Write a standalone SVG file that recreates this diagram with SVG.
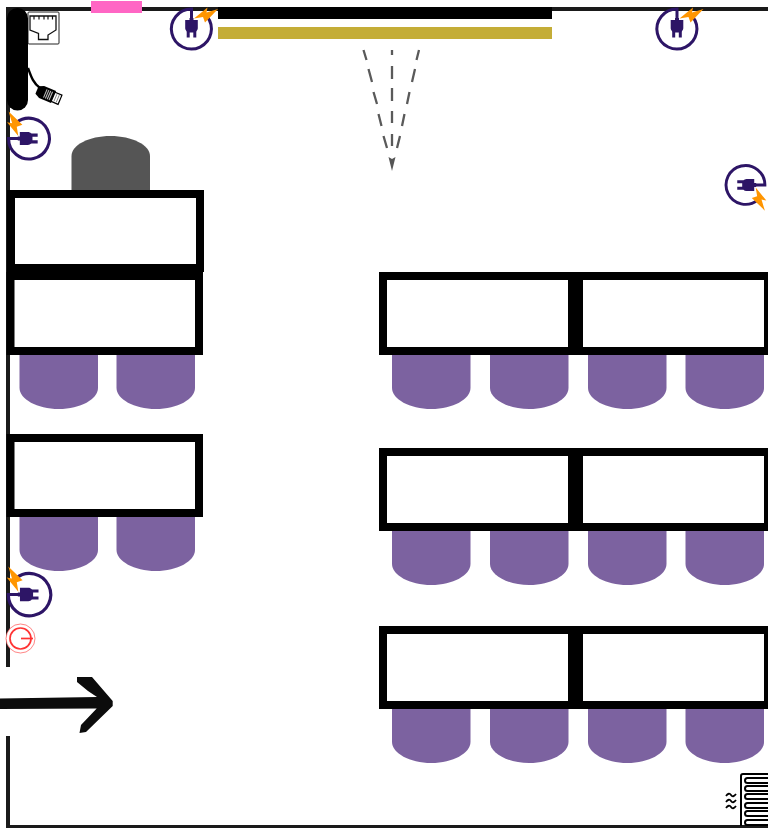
<svg xmlns="http://www.w3.org/2000/svg" width="768" height="828" viewBox="0 0 768 828">
<defs>
<style>
.wall{fill:#1a1a1a}
.desk{fill:#fff;stroke:#000;stroke-width:8}
.seat{fill:#7c62a0}
.ring{fill:none;stroke:#2d1566;stroke-width:3}
.plug{fill:#2d1566}
.bolt{fill:#ff9500}
.ray{stroke:#5a5a5a;stroke-width:2.300;fill:none}
</style>
<path id="chair" d="M0 0H78.500V33C78.500 44 61 54 39.250 54S0 44 0 33Z"/>
<g id="plugicon">
<path class="ring" d="M15.500 -12.500A20 20 0 1 1 0 -20V-8M-3.300 2V8.500M3.300 2V8.500"/>
<path class="plug" d="M-6.300 -9H-2V-11H2V-9H6.300V-1C6.300 1.500 4 3.400 2 3.400H-2C-4 3.400 -6.300 1.500 -6.300 -1Z"/>
<path class="bolt" d="M2.500 -10.500L16 -21.500L15 -16.500L26.500 -20L13.500 -6.500L11.500 -12Z"/>
</g>
</defs>
<rect width="768" height="828" fill="#fff"/>
<g id="walls">
<rect class="wall" x="6" y="7" width="762" height="4"/>
<rect class="wall" x="6" y="7" width="4" height="660"/>
<rect class="wall" x="6" y="736" width="4" height="92"/>
<rect class="wall" x="6" y="825" width="762" height="3"/>
</g>
<g id="window">
<rect x="91" y="1" width="51" height="12" fill="#ff66c4"/>
</g>
<g id="screen">
<rect x="218" y="7" width="334" height="12" fill="#000"/>
<rect x="218" y="27" width="334" height="12" fill="#c4ad37"/>
</g>
<g id="connectors">
<path class="ray" d="M363.500 50L366.500 60M368.500 69L372 82M373.500 92L377 104M378.500 114L381.500 126M383.500 136L387 148"/>
<path class="ray" d="M392 50V55M392 66V79M392 88V101M392 111V123M392 134V146"/>
<path class="ray" d="M419 50L416.500 60M415 69L412 82M409.500 92L407 104M404.500 114L402 126M400 136L397 148"/>
<path d="M388.500 157L392 159L395.500 157L392 171Z" fill="#555"/>
</g>
<g id="network">
<rect x="28" y="12" width="31" height="32" rx="1" fill="#fff" stroke="#222" stroke-width="1"/>
<path d="M30 16H56V30L48 35V39.500H38.500V33.500L30 30Z" fill="#fff" stroke="#111" stroke-width="1.300"/>
<path d="M34 16v3.500M39 16v3.500M44 16v3.500M48 16v3.500M52.500 16v3.500" stroke="#111" stroke-width="1.200"/>
</g>
<g id="cable">
<rect x="7" y="8" width="21" height="102.500" rx="10.500" fill="#000"/>
<path d="M28 68C31 76 33 83 40 88" fill="none" stroke="#000" stroke-width="2.400"/>
<g transform="translate(37 90) rotate(23)">
<path d="M0 -4L5 -6.500H18V6.500H5L0 4Z" fill="#000"/>
<path d="M9 -4.500V4.500M11 -4.500V4.500M13 -4.500V4.500M15 -4.500V4.500" stroke="#bbb" stroke-width="1.100"/>
<rect x="17.500" y="-5" width="7.500" height="10" fill="#fff" stroke="#000" stroke-width="1.200"/>
<path d="M20 -4V4M22.500 -4V4" stroke="#777" stroke-width=".8"/>
</g>
</g>
<g id="plug-1"><use href="#plugicon" transform="translate(191.500 29)"/></g>
<g id="plug-2"><use href="#plugicon" transform="translate(677 29)"/></g>
<g id="plug-3"><use href="#plugicon" transform="translate(29 138.500) rotate(-90) scale(1.020)"/></g>
<g id="plug-4"><use href="#plugicon" transform="translate(745.500 185) rotate(90) scale(.97)"/></g>
<g id="plug-5"><use href="#plugicon" transform="translate(29.500 594.500) rotate(-90) scale(1.060)"/></g>
<g id="power-switch">
<circle cx="20.500" cy="638.500" r="14.500" fill="#fff" stroke="#ff3333" stroke-width=".6"/>
<circle cx="20.500" cy="638.500" r="10.500" fill="none" stroke="#ff3333" stroke-width="1.700"/>
<path d="M21 638.500H33" stroke="#ff3333" stroke-width="1.700"/>
</g>
<g id="door-arrow">
<path d="M0 698.500L97 697L88 691L77 682V677H92L112.700 701V706L86 732L79.500 733L81 725L96.700 708.500L0 709Z" fill="#0c0c0c"/>
</g>
<g id="heater">
<path d="M768 774H743Q741 774 741 776V826" fill="none" stroke="#000" stroke-width="2"/>
<g fill="#fff" stroke="#000" stroke-width="2">
<rect x="745" y="778" width="25" height="5" rx="2.500"/>
<rect x="745" y="786" width="25" height="5" rx="2.500"/>
<rect x="745" y="794" width="25" height="5" rx="2.500"/>
<rect x="745" y="803" width="25" height="5" rx="2.500"/>
<rect x="745" y="811" width="25" height="5" rx="2.500"/>
<rect x="745" y="820" width="25" height="5" rx="2.500"/>
</g>
<path d="M726 796Q729 792 731 795T736 794M726 802Q729 798 731 801T736 800M726 808Q729 804 731 807T736 806" fill="none" stroke="#000" stroke-width="1.800"/>
</g>
<g id="lectern">
<path d="M71.500 190V156C71.500 145 89 136 110.500 136S150 145 150 156V190Z" fill="#555"/>
</g>
<g id="desks-left">
<rect class="desk" x="11" y="194" width="189" height="74"/>
<rect class="desk" x="10.500" y="276" width="188.500" height="75"/>
<rect class="desk" x="10.500" y="438" width="188.500" height="75"/>
</g>
<g id="desks-right">
<rect class="desk" x="383" y="276" width="189" height="75"/>
<rect class="desk" x="579" y="276" width="189" height="75"/>
<rect class="desk" x="383" y="452" width="189" height="75"/>
<rect class="desk" x="579" y="452" width="189" height="75"/>
<rect class="desk" x="383" y="630" width="189" height="75"/>
<rect class="desk" x="579" y="630" width="189" height="75"/>
</g>
<g id="chairs" class="seat">
<use href="#chair" x="19.500" y="355"/>
<use href="#chair" x="116.500" y="355"/>
<use href="#chair" x="19.500" y="517"/>
<use href="#chair" x="116.500" y="517"/>
<use href="#chair" x="392" y="355"/>
<use href="#chair" x="490" y="355"/>
<use href="#chair" x="588" y="355"/>
<use href="#chair" x="685.500" y="355"/>
<use href="#chair" x="392" y="531"/>
<use href="#chair" x="490" y="531"/>
<use href="#chair" x="588" y="531"/>
<use href="#chair" x="685.500" y="531"/>
<use href="#chair" x="392" y="709"/>
<use href="#chair" x="490" y="709"/>
<use href="#chair" x="588" y="709"/>
<use href="#chair" x="685.500" y="709"/>
</g>
</svg>
